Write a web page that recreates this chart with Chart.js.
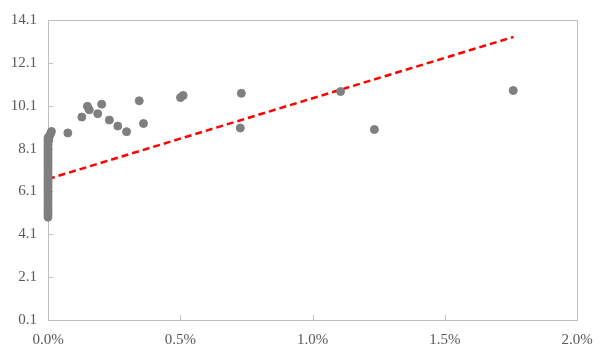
<!DOCTYPE html>
<html>
<head>
<meta charset="utf-8">
<script src="https://cdn.jsdelivr.net/npm/chart.js@4"></script>
<style>
  body { margin: 0; background: #fff; }
  #wrap { width: 600px; height: 360px; }
</style>
</head>
<body>
<div id="wrap"><canvas id="myChart"></canvas></div>
<script>
// ticks
var xTicks = [0, 0.5, 1.0, 1.5, 2.0];
var yTicks = [0.1, 2.1, 4.1, 6.1, 8.1, 10.1, 12.1, 14.1];

// points (x in %)
var xVals = [
  0, 0, 0, 0, 0, 0, 0, 0, 0, 0, 0, 0, 0, 0, 0, 0, 0, 0, 0, 0,
  0, 0, 0, 0, 0, 0, 0, 0, 0, 0, 0, 0, 0, 0, 0, 0, 0, 0,
  0.003, 0.006, 0.01, 0.013,
  0.075, 0.128, 0.149, 0.156, 0.188, 0.203, 0.232, 0.264, 0.297, 0.345, 0.361,
  0.501, 0.511, 0.731, 0.727, 1.106, 1.234, 1.759
];
var yVals = [
  4.9, 5.0, 5.1, 5.2, 5.3, 5.4, 5.5, 5.6, 5.7, 5.8, 5.9, 6.0, 6.1, 6.2, 6.3, 6.4, 6.5, 6.6, 6.7, 6.8,
  6.9, 7.0, 7.1, 7.2, 7.3, 7.4, 7.5, 7.6, 7.7, 7.8, 7.9, 8.0, 8.1, 8.2, 8.3, 8.4, 8.5, 8.6,
  8.5, 8.7, 8.8, 8.9,
  8.83, 9.57, 10.07, 9.91, 9.73, 10.17, 9.43, 9.15, 8.89, 10.33, 9.27,
  10.48, 10.58, 10.68, 9.06, 10.76, 8.99, 10.81
];

// trend line ends
var trendX = [0, 1.76];
var trendY = [6.68, 13.31];

var points = xVals.map(function (x, i) { return { x: x, y: yVals[i] }; });
var trend = trendX.map(function (x, i) { return { x: x, y: trendY[i] }; });

var frame = {
  id: 'frame',
  beforeDatasetsDraw: function (chart) {
    var c = chart.ctx, a = chart.chartArea;
    var xs = chart.scales.x, ys = chart.scales.y;
    c.save();
    c.strokeStyle = '#bfbfbf';
    c.lineWidth = 1;
    c.strokeRect(Math.round(a.left) + 0.5, Math.round(a.top) + 0.5,
                 Math.round(a.right - a.left), Math.round(a.bottom - a.top));
    c.beginPath();
    yTicks.forEach(function (v) {
      var p = Math.round(ys.getPixelForValue(v)) + 0.5;
      c.moveTo(a.left, p); c.lineTo(a.left + 5, p);
    });
    xTicks.forEach(function (v) {
      var p = Math.round(xs.getPixelForValue(v)) + 0.5;
      c.moveTo(p, a.bottom); c.lineTo(p, a.bottom - 5);
    });
    c.stroke();
    c.restore();
  }
};

var ctx = document.getElementById('myChart').getContext('2d');
var myChart = new Chart(ctx, {
  type: 'scatter',
  data: {
    datasets: [{
      label: 'Dados',
      data: points,
      backgroundColor: '#7f7f7f',
      borderColor: '#7f7f7f',
      pointRadius: 4,
      pointHoverRadius: 4,
      clip: false
    }, {
      type: 'line',
      label: 'Tendência',
      data: trend,
      borderColor: '#ff0000',
      borderWidth: 2.5,
      borderDash: [7, 4],
      pointRadius: 0,
      fill: false
    }]
  },
  options: {
    responsive: true,
    maintainAspectRatio: false,
    animation: false,
    layout: { padding: { top: 18, right: 23, left: 0, bottom: 0 } },
    plugins: { legend: { display: false }, tooltip: { enabled: false } },
    scales: {
      x: {
        type: 'linear',
        min: 0, max: 2.0,
        grid: { display: false, drawTicks: false },
        border: { display: false },
        afterBuildTicks: function (s) { s.ticks = xTicks.map(function (v) { return { value: v }; }); },
        afterFit: function (s) { s.height = 40; s.paddingLeft = 0; s.paddingRight = 0; },
        ticks: {
          padding: 11,
          color: '#595959',
          font: { family: 'Liberation Serif', size: 15 },
          callback: function (v) { return v.toFixed(1) + '%'; }
        }
      },
      y: {
        min: 0.1, max: 14.1,
        grid: { display: false, drawTicks: false },
        border: { display: false },
        afterBuildTicks: function (s) { s.ticks = yTicks.map(function (v) { return { value: v }; }); },
        afterFit: function (s) { s.width = 48; },
        ticks: {
          padding: 11,
          color: '#595959',
          font: { family: 'Liberation Serif', size: 15 },
          callback: function (v) { return v.toFixed(1); }
        }
      }
    }
  },
  plugins: [frame]
});
</script>
</body>
</html>
